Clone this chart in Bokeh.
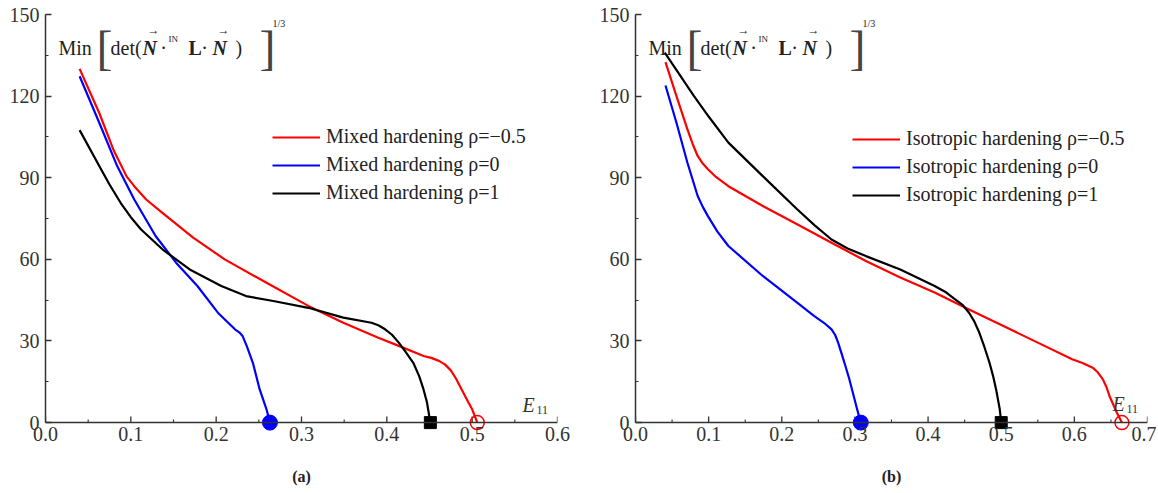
from bokeh.plotting import figure
from bokeh.layouts import row
from bokeh.models import Range1d, Legend, LegendItem, Label, FixedTicker, Span
from bokeh.embed import file_html
from bokeh.resources import INLINE

# ---------------- data ----------------
# (a) mixed hardening
red_a_x = [0.040, 0.063, 0.080, 0.095, 0.104, 0.118, 0.137, 0.173, 0.210, 0.259, 0.308, 0.349, 0.390, 0.414, 0.443, 0.452, 0.461, 0.468, 0.475, 0.481, 0.488, 0.495, 0.500, 0.506]
red_a_y = [130.0, 113.8, 100.0, 90.5, 86.9, 82.0, 77.1, 68.0, 60.0, 51.4, 42.9, 36.7, 31.2, 28.2, 24.5, 23.8, 22.7, 21.4, 19.2, 16.2, 12.0, 7.8, 4.9, 0.0]
blue_a_x = [0.040, 0.063, 0.084, 0.104, 0.129, 0.153, 0.178, 0.202, 0.222, 0.227, 0.231, 0.236, 0.243, 0.251, 0.259, 0.263]
blue_a_y = [127.3, 110.2, 94.3, 82.0, 68.6, 58.8, 50.2, 40.4, 34.3, 33.2, 31.8, 28.0, 22.0, 12.2, 4.9, 0.0]
black_a_x = [0.040, 0.063, 0.075, 0.088, 0.100, 0.112, 0.137, 0.169, 0.206, 0.235, 0.267, 0.308, 0.349, 0.382, 0.390, 0.398, 0.406, 0.414, 0.422, 0.431, 0.438, 0.443, 0.447, 0.451]
black_a_y = [107.5, 94.3, 87.5, 80.8, 75.5, 71.0, 63.7, 56.3, 50.2, 46.5, 44.7, 42.2, 38.6, 36.7, 35.8, 34.3, 32.3, 29.4, 26.0, 22.0, 17.0, 12.2, 7.5, 0.0]

# (b) isotropic hardening
red_b_x = [0.041, 0.056, 0.071, 0.078, 0.085, 0.092, 0.099, 0.110, 0.127, 0.174, 0.221, 0.268, 0.315, 0.362, 0.409, 0.456, 0.503, 0.550, 0.597, 0.612, 0.625, 0.632, 0.639, 0.644, 0.648, 0.658, 0.665]
red_b_y = [132.5, 120.0, 107.8, 102.5, 98.0, 95.2, 93.1, 90.3, 86.9, 79.6, 72.9, 66.1, 59.4, 53.3, 47.8, 41.6, 35.5, 29.4, 23.3, 21.8, 20.2, 18.5, 15.9, 13.0, 9.8, 3.7, 0.0]
blue_b_x = [0.041, 0.056, 0.071, 0.085, 0.092, 0.099, 0.112, 0.127, 0.174, 0.221, 0.244, 0.258, 0.268, 0.273, 0.277, 0.282, 0.287, 0.292, 0.296, 0.303, 0.308]
blue_b_y = [123.9, 110.2, 95.5, 83.3, 79.3, 75.9, 70.2, 64.9, 53.9, 44.1, 39.2, 36.6, 34.3, 32.2, 29.4, 25.2, 20.8, 16.3, 12.2, 4.9, 0.0]
black_b_x = [0.040, 0.080, 0.100, 0.127, 0.174, 0.221, 0.245, 0.268, 0.290, 0.315, 0.362, 0.409, 0.425, 0.437, 0.447, 0.456, 0.463, 0.470, 0.477, 0.484, 0.489, 0.493, 0.498, 0.500]
black_b_y = [136.0, 120.0, 112.5, 102.9, 90.6, 78.4, 72.5, 67.3, 64.0, 61.2, 56.3, 50.2, 47.8, 45.3, 43.3, 40.4, 37.3, 33.1, 27.8, 22.0, 17.0, 12.2, 4.9, 0.0]

labels_a = ["Mixed hardening ρ=−0.5", "Mixed hardening ρ=0", "Mixed hardening ρ=1"]
labels_b = ["Isotropic hardening ρ=−0.5", "Isotropic hardening ρ=0", "Isotropic hardening ρ=1"]
x_ticks_a = [0.0, 0.1, 0.2, 0.3, 0.4, 0.5, 0.6]
x_ticks_b = [0.0, 0.1, 0.2, 0.3, 0.4, 0.5, 0.6, 0.7]
y_ticks = [0, 30, 60, 90, 120, 150]

FONT = "Liberation Serif"
AXC = "#333333"
RED, BLUE, BLACK = "#ff0000", "#0000ff", "#000000"
Y_LO, Y_HI = -4, 150
PX_PER_Y = 2.72
FRAME_H = int(round((Y_HI - Y_LO) * PX_PER_Y))
PX_PER_Y = FRAME_H / (Y_HI - Y_LO)
TOP = 14
Y0_PAGE = TOP + Y_HI * PX_PER_Y  # page y of data y=0
FIG_H = 492


def make_panel(xmax, frame_w, bl, br, series, labels, legend_xy, tag, e_pos, x_ticks):
    p = figure(frame_width=frame_w, frame_height=FRAME_H,
               min_border_left=bl, min_border_right=br, min_border_top=TOP,
               min_border_bottom=FIG_H - TOP - FRAME_H,
               x_range=Range1d(0, xmax), y_range=Range1d(Y_LO, Y_HI),
               output_backend="svg", toolbar_location=None)
    p.outline_line_color = None
    p.grid.visible = False
    px_per_x = frame_w / xmax

    xa, ya = p.xaxis[0], p.yaxis[0]
    for ax in (xa, ya):
        ax.major_label_text_font = FONT
        ax.major_label_text_font_size = "20px"
        ax.major_label_text_color = AXC
    # y axis (bounded to 0..150)
    ya.axis_line_color = AXC
    ya.axis_line_width = 1.5
    ya.major_tick_line_color = AXC
    ya.minor_tick_line_color = AXC
    ya.major_tick_line_width = 1.3
    ya.minor_tick_line_width = 1.1
    ya.major_tick_in, ya.major_tick_out = 6, 0
    ya.minor_tick_in, ya.minor_tick_out = 3, 0
    ya.bounds = (0, 150)
    ya.ticker = FixedTicker(ticks=y_ticks, minor_ticks=list(range(0, 151, 15)))
    ya.major_label_standoff = 6

    # x axis: labels by bokeh, line + ticks drawn at y = 0
    minor = [round(0.05 * i, 3) for i in range(int(round(xmax / 0.05)) + 1)]
    xa.ticker = FixedTicker(ticks=x_ticks, minor_ticks=minor)
    xa.major_label_overrides = {t: f"{t:.1f}" for t in x_ticks}
    xa.axis_line_color = None
    xa.major_tick_line_color = None
    xa.minor_tick_line_color = None
    xa.major_tick_in = xa.major_tick_out = 0
    xa.minor_tick_in = xa.minor_tick_out = 0
    xa.major_label_standoff = -7
    xa.axis_label = tag
    xa.axis_label_text_font = FONT
    xa.axis_label_text_font_size = "16px"
    xa.axis_label_text_font_style = "bold"
    xa.axis_label_text_color = "#222222"
    xa.axis_label_standoff = 24

    p.add_layout(Span(location=0, dimension="width", line_color=AXC, line_width=1.5))
    p.segment(x0=x_ticks, y0=[0] * len(x_ticks), x1=x_ticks, y1=[6 / PX_PER_Y] * len(x_ticks),
              line_color=AXC, line_width=1.3)
    mins = [m for m in minor if all(abs(m - t) > 1e-6 for t in x_ticks)]
    p.segment(x0=mins, y0=[0] * len(mins), x1=mins, y1=[3 / PX_PER_Y] * len(mins),
              line_color=AXC, line_width=1.1)

    items = []
    for (xs, ys, col), lab_ in zip(series, labels):
        r = p.line(xs, ys, line_color=col, line_width=2.2, line_join="round")
        items.append(LegendItem(label=lab_, renderers=[r]))
    (rx, ry, _), (bx, by, _), (kx, ky, _) = series
    p.scatter([bx[-1]], [by[-1]], marker="circle", size=15, fill_color=BLUE, line_color=BLUE)
    p.scatter([kx[-1]], [ky[-1]], marker="square", size=12, fill_color=BLACK, line_color=BLACK)
    p.scatter([rx[-1]], [ry[-1]], marker="circle", size=14, fill_color="white", fill_alpha=0,
              line_color=RED, line_width=1.5)

    leg = Legend(items=items, location=legend_xy, border_line_color=None,
                 background_fill_alpha=0, padding=0, margin=0, spacing=5,
                 glyph_width=48, glyph_height=20, label_height=20, label_standoff=6,
                 label_text_font=FONT, label_text_font_size="20px", label_text_color="#222222")
    leg.item_background_fill_alpha = 0
    p.add_layout(leg)

    def lab(text, dx, py, size, style="normal", align="left", color="#222222"):
        p.add_layout(Label(x=dx / px_per_x, y=(Y0_PAGE - py) / PX_PER_Y, text=text,
                           text_font=FONT, text_font_size=f"{size}px", text_font_style=style,
                           text_baseline="middle", text_align=align, text_color=color))

    # formula  Min[det(N . IN L . N)]^(1/3)
    lab("Min", 13, 47, 20)
    lab("[", 51, 47, 48, color="#444444")
    lab("det(", 65, 47, 20)
    lab("N", 97, 47, 20, "bold italic")
    lab("→", 102, 29, 12)
    lab("·", 118, 47, 20, align="center")
    lab("IN", 123, 38, 9)
    lab("L", 143, 47, 20, "bold")
    lab("·", 159, 47, 20, align="center")
    lab("N", 167, 47, 20, "bold italic")
    lab("→", 172, 29, 12)
    lab(")", 190, 47, 20)
    lab("]", 214, 47, 48, color="#444444")
    lab("1/3", 227, 23, 10)

    # E11 axis name
    ex, ey = e_pos
    p.add_layout(Label(x=ex, y=ey, text="E", text_font=FONT, text_font_size="20px",
                       text_font_style="italic", text_baseline="middle", text_color=AXC))
    p.add_layout(Label(x=ex + 14 / px_per_x, y=ey - 5 / PX_PER_Y, text="11", text_font=FONT,
                       text_font_size="12px", text_baseline="middle", text_color=AXC))
    return p


pa = make_panel(0.6, 512, 45, 33,
                [(red_a_x, red_a_y, RED), (blue_a_x, blue_a_y, BLUE), (black_a_x, black_a_y, BLACK)],
                labels_a, (227, 229), "(a)", (0.559, 6.3), x_ticks_a)
pb = make_panel(0.7, 512, 45, 9,
                [(red_b_x, red_b_y, RED), (blue_b_x, blue_b_y, BLUE), (black_b_x, black_b_y, BLACK)],
                labels_b, (217, 227), "(b)", (0.652, 7.0), x_ticks_b)

layout = row(pa, pb)
open("out.html", "w").write(file_html(layout, INLINE))
